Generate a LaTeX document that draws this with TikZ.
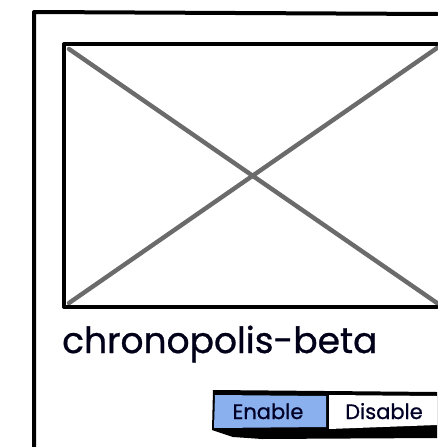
\documentclass[tikz,border=0pt]{standalone}
\usepackage{fontspec}
\setmainfont[FakeBold=0.8]{Poppins}
\definecolor{enableblue}{RGB}{138,176,238}
\tikzset{
  px/.style={x=1pt,y=-1pt},
  frame/.style={draw=black,line width=4pt,line cap=round,line join=round},
  cross/.style={draw=black!58,line width=4.4pt,line cap=round},
  btnlabel/.style={inner sep=0pt,font=\fontsize{21}{24}\selectfont,text=black!85!blue},
}
\begin{document}
\begin{tikzpicture}[px]
\useasboundingbox (0,0) rectangle (437,447);
\coordinate (oTL) at (34,12);
\coordinate (oTR) at (437,14);
\coordinate (oBL) at (34,447);
\coordinate (iTL) at (64,44);
\coordinate (iTR) at (437,44);
\coordinate (iBL) at (64,307);
\coordinate (iBR) at (437,307);
\coordinate (c1) at (69,49);
\coordinate (c2) at (437,303);
\coordinate (c3) at (69,303);
\coordinate (c4) at (437,48);
\draw[frame] (oTR) -- (oTL) -- (oBL);
\draw[cross] (c1) -- (c2);
\draw[cross] (c3) -- (c4);
\draw[frame] (iTR) -- (iTL) -- (iBL) -- (iBR);
\node[anchor=base west,inner sep=0pt,font=\fontsize{36}{40}\selectfont,text=black!90!blue] (title) at (62,353) {chronopolis-beta};
% button bar
\fill[black] (213,390) -- (437,392) -- (437,438) -- (262,439) -- (233,437) -- (212,430) -- cycle;
\fill[white] (329,395) -- (437,396) -- (437,425) -- (329,429) -- cycle;
\fill[enableblue] (215,395) -- (326,396) -- (326,427) -- (214,428) -- cycle;
\node[btnlabel,anchor=base] (enable) at (268,419) {Enable};
\node[btnlabel,anchor=base] (disable) at (384,419) {Disable};
\end{tikzpicture}
\end{document}
